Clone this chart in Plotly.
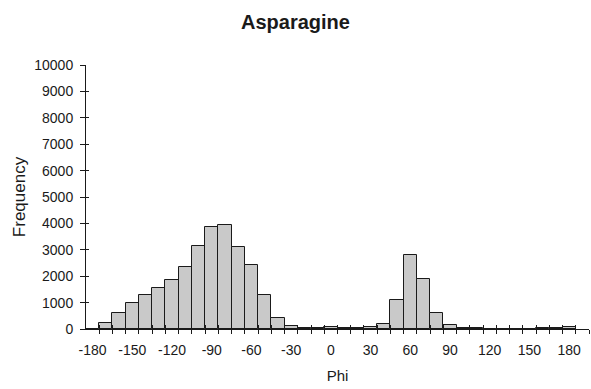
import plotly.graph_objects as go

# Phi histogram for asparagine: 10-degree bins labelled by bin value
phi_bins = list(range(-180, 190, 10))
frequency = [
    0, 230, 610, 1000, 1270, 1565, 1870, 2330, 3140, 3880,
    3955, 3090, 2415, 1300, 420, 110, 35, 30, 80, 50,
    40, 80, 190, 1110, 2810, 1890, 610, 140, 40, 30,
    10, 10, 10, 10, 25, 30, 90,
]
label_vals = list(range(-180, 181, 30))
label_text = [str(v) for v in label_vals]
y_ticks = list(range(0, 10001, 1000))
y_text = [str(v) for v in y_ticks]

# bin edges carry the tick marks; one empty bin past 180 closes the axis
bin_edges = [v + 5 for v in phi_bins] + [phi_bins[-1] + 15]
x_range = [phi_bins[0] - 5, phi_bins[-1] + 15]

FONT = "Liberation Sans, Arial, sans-serif"
INK = "#1a1a1a"

fig = go.Figure()
fig.add_trace(go.Bar(
    x=phi_bins,
    y=frequency,
    width=10,
    marker=dict(color="#c9c9c9", line=dict(color=INK, width=1)),
    showlegend=False,
))
# invisible companions so the overlay axes (crossing ticks, labels) get drawn
for xa, ya in (("x2", "y"), ("x3", "y"), ("x", "y2")):
    fig.add_trace(go.Scatter(
        x=phi_bins, y=frequency, xaxis=xa, yaxis=ya,
        mode="markers", marker=dict(opacity=0),
        hoverinfo="skip", showlegend=False,
    ))

fig.update_layout(
    width=591,
    height=389,
    margin=dict(l=86, r=2, t=65, b=60),
    paper_bgcolor="white",
    plot_bgcolor="white",
    bargap=0,
    font=dict(family=FONT, size=14, color=INK),
    title=dict(
        text="<b>Asparagine</b>",
        font=dict(family=FONT, size=20, color=INK),
        x=0.5, xref="container", xanchor="center",
        y=1 - 22 / 389, yref="container", yanchor="middle",
    ),
    # tick marks below the line at each bin edge
    xaxis=dict(
        range=x_range,
        tickmode="array", tickvals=bin_edges,
        ticks="outside", ticklen=4, tickwidth=1, tickcolor=INK,
        showticklabels=False,
        showline=True, linecolor=INK, linewidth=1,
        showgrid=False, zeroline=False,
    ),
    # matching marks above the line so each tick crosses it
    xaxis2=dict(
        range=x_range, overlaying="x", anchor="y", side="bottom",
        tickmode="array", tickvals=bin_edges,
        ticks="inside", ticklen=4, tickwidth=1, tickcolor=INK,
        showticklabels=False, showline=False,
        showgrid=False, zeroline=False,
    ),
    # labels centred under every third bin
    xaxis3=dict(
        range=x_range, overlaying="x", anchor="y", side="bottom",
        tickmode="array", tickvals=label_vals, ticktext=label_text,
        ticks="", showline=False, showgrid=False, zeroline=False,
        ticklabelstandoff=11,
        tickfont=dict(family=FONT, size=14, color=INK),
        title=dict(text="Phi", font=dict(family=FONT, size=15, color=INK), standoff=13),
    ),
    yaxis=dict(
        range=[0, 10000],
        tickmode="array", tickvals=y_ticks, ticktext=y_text,
        ticks="outside", ticklen=5, tickwidth=1, tickcolor=INK,
        ticklabelstandoff=4,
        tickfont=dict(family=FONT, size=14, color=INK),
        showline=True, linecolor=INK, linewidth=1,
        showgrid=False, zeroline=False,
        title=dict(text="Frequency", font=dict(family=FONT, size=17, color=INK), standoff=4),
    ),
    yaxis2=dict(
        range=[0, 10000], overlaying="y", anchor="x", side="left",
        tickmode="array", tickvals=y_ticks,
        ticks="inside", ticklen=3, tickwidth=1, tickcolor=INK,
        showticklabels=False, showline=False,
        showgrid=False, zeroline=False,
    ),
)

fig.write_html("out.html")
